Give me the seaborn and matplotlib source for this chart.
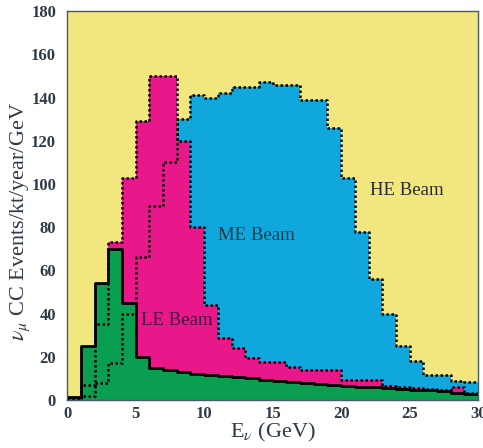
import matplotlib
matplotlib.use("Agg")
import matplotlib.pyplot as plt
import seaborn as sns
import numpy as np
import pandas as pd

# 1 GeV bins from 0 to 30
edges = list(range(0, 31))
centers = [e + 0.5 for e in edges[:-1]]

# medium energy beam (blue)
me_beam = [0, 2, 8, 17, 40, 66, 90, 110, 130, 141,
           140, 142, 145, 145, 147, 146, 146, 139, 139, 126,
           103, 78, 56, 40, 25, 18, 11.5, 11.5, 9, 8.5]
# low energy beam (magenta)
le_beam = [0.5, 7, 35, 73, 103, 129, 150, 150, 120, 80,
           44, 28.5, 24, 19.5, 17.7, 17.7, 15.4, 14, 14, 14,
           9.3, 9.3, 9.3, 6.5, 6, 5.5, 5, 4.5, 6, 3.5]
# narrow / lowest spectrum (green)
low_beam = [1.5, 25, 54, 70, 45, 20, 15, 14, 13, 12,
            11.5, 11, 10.5, 10, 9.5, 9, 8.5, 8, 7.5, 7,
            6.5, 6, 6, 5.5, 5, 4.5, 4.5, 4, 3.5, 3]

df = pd.DataFrame({"E": centers, "ME": me_beam, "LE": le_beam, "low": low_beam})

yellow = "#f2e67f"
blue = "#10a8dc"
magenta = "#e8178a"
green = "#0a9e50"
txt = "#2d3a48"

plt.rcParams["font.family"] = ["Liberation Serif", "DejaVu Serif"]
plt.rcParams["mathtext.fontset"] = "stix"

fig = plt.figure(figsize=(4.83, 4.48), dpi=100)
fig.patch.set_facecolor("white")
ax = fig.add_axes([0.139, 0.107, 0.851, 0.868])
ax.set_facecolor(yellow)

# filled areas
for col, c in [("ME", blue), ("LE", magenta), ("low", green)]:
    sns.histplot(data=df, x="E", weights=col, bins=edges, element="step",
                 fill=True, color=c, alpha=1, linewidth=0, ax=ax)

# outlines on top
for col, ls, lw in [("ME", (0, (1, 1)), 1.8), ("LE", (0, (1, 1)), 1.8),
                    ("low", "-", 2.0)]:
    sns.histplot(data=df, x="E", weights=col, bins=edges, element="step",
                 fill=False, color="black", linestyle=ls, linewidth=lw, ax=ax)

ax.set_xlim(0, 30)
ax.set_ylim(0, 180)
ax.set_xticks(range(0, 31, 5))
ax.set_yticks(range(0, 181, 20))
ax.tick_params(length=0, labelsize=12, labelcolor=txt)
ax.tick_params(axis="y", pad=8)
ax.tick_params(axis="x", pad=4)
for lab in ax.get_xticklabels() + ax.get_yticklabels():
    lab.set_fontweight("bold")
for s in ax.spines.values():
    s.set_color("#4a5a66")
    s.set_linewidth(1.0)

ax.set_xlabel(r"E$_\nu$ (GeV)", fontsize=16, color=txt)
ax.set_ylabel(r"$\nu_\mu$ CC Events/kt/year/GeV", fontsize=16, color=txt)
ax.xaxis.set_label_coords(0.5, -0.055)
ax.yaxis.set_label_coords(-0.085, 0.46)

ax.text(22.1, 97, "HE Beam", fontsize=13.5, color="#2a2a2a", va="center")
ax.text(11.0, 76, "ME Beam", fontsize=13.5, color="#1d3a4a", va="center")
ax.text(5.4, 37, "LE Beam", fontsize=13.5, color="#4a1040", va="center")

fig.savefig("out.png", dpi=100)
